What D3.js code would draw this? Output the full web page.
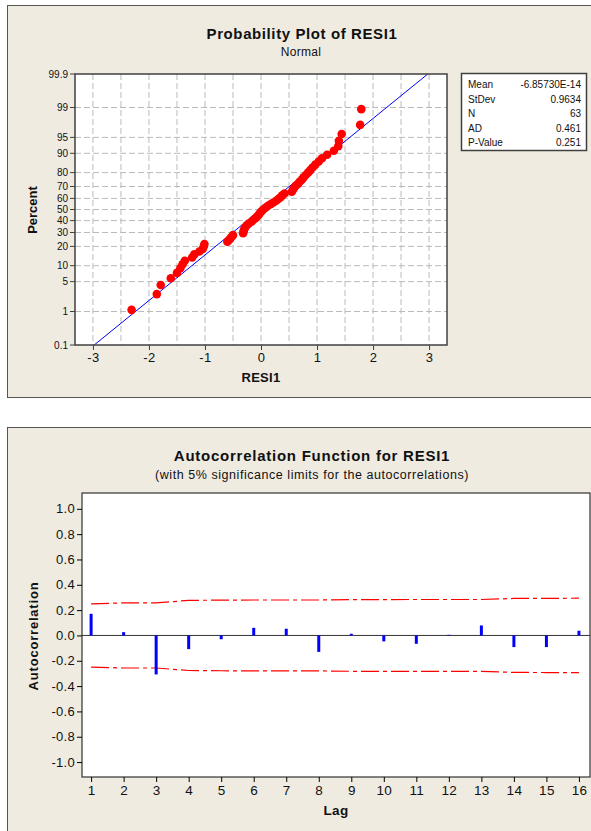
<!DOCTYPE html>
<html>
<head>
<meta charset="utf-8">
<script src="https://cdn.jsdelivr.net/npm/d3@7"></script>
<style>
  body { margin: 0; background: #fff; }
  svg text { font-family: "Liberation Sans", Arial, sans-serif; fill: #111; }
</style>
</head>
<body>
<svg id="canvas" width="591" height="831"></svg>
<script>
// sorted residuals
const resid = [-2.31, -1.86, -1.79, -1.61, -1.50, -1.44, -1.40, -1.36, -1.23, -1.19,
  -1.10, -1.04, -1.02, -1.01, -0.60, -0.56, -0.53, -0.50, -0.32, -0.31,
  -0.30, -0.28, -0.26, -0.22, -0.17, -0.14, -0.10, -0.07, -0.04, -0.02,
  0.01, 0.04, 0.08, 0.12, 0.17, 0.22, 0.27, 0.31, 0.35, 0.38,
  0.42, 0.55, 0.57, 0.59, 0.62, 0.66, 0.69, 0.73, 0.76, 0.80,
  0.84, 0.88, 0.92, 0.97, 1.03, 1.09, 1.18, 1.30, 1.38, 1.39,
  1.44, 1.77, 1.79];
const pctTicks = [0.1, 1, 5, 10, 20, 30, 40, 50, 60, 70, 80, 90, 95, 99, 99.9];
const xTicks = [-3, -2, -1, 0, 1, 2, 3];
const statNames = ["Mean", "StDev", "N", "AD", "P-Value"];
const statValues = ["-6.85730E-14", "0.9634", "63", "0.461", "0.251"];
const fitMean = -6.8573e-14, fitSd = 0.9634;

// autocorrelation
const lags = d3.range(1, 17);
const acf = [0.171, 0.026, -0.308, -0.108, -0.030, 0.060, 0.053, -0.130,
  0.013, -0.047, -0.066, 0.005, 0.079, -0.092, -0.092, 0.037];
const limit = [0.250, 0.257, 0.257, 0.277, 0.279, 0.280, 0.280, 0.280,
  0.283, 0.283, 0.284, 0.284, 0.284, 0.292, 0.293, 0.294];
const acfTicks = [-1.0, -0.8, -0.6, -0.4, -0.2, 0.0, 0.2, 0.4, 0.6, 0.8, 1.0];

// inverse normal cdf (Acklam)
function probit(p) {
  const a = [-39.6968302866538, 220.946098424521, -275.928510446969, 138.357751867269, -30.6647980661472, 2.50662827745924];
  const b = [-54.4760987982241, 161.585836858041, -155.698979859887, 66.8013118877197, -13.2806815528857];
  const c = [-0.00778489400243029, -0.322396458041136, -2.40075827716184, -2.54973253934373, 4.37466414146497, 2.93816398269878];
  const d = [0.00778469570904146, 0.32246712907004, 2.445134137143, 3.75440866190742];
  const pl = 0.02425;
  let q, r;
  if (p < pl) {
    q = Math.sqrt(-2 * Math.log(p));
    return (((((c[0]*q+c[1])*q+c[2])*q+c[3])*q+c[4])*q+c[5]) / ((((d[0]*q+d[1])*q+d[2])*q+d[3])*q+1);
  }
  if (p > 1 - pl) {
    q = Math.sqrt(-2 * Math.log(1 - p));
    return -(((((c[0]*q+c[1])*q+c[2])*q+c[3])*q+c[4])*q+c[5]) / ((((d[0]*q+d[1])*q+d[2])*q+d[3])*q+1);
  }
  q = p - 0.5; r = q * q;
  return (((((a[0]*r+a[1])*r+a[2])*r+a[3])*r+a[4])*r+a[5])*q / (((((b[0]*r+b[1])*r+b[2])*r+b[3])*r+b[4])*r+1);
}

const svg = d3.select("#canvas");
const bg = "#efebe1";

// panels
svg.append("rect").attr("x", 7.5).attr("y", 5.5).attr("width", 600).attr("height", 392)
  .attr("fill", bg).attr("stroke", "#555").attr("stroke-width", 1);
svg.append("rect").attr("x", 7.5).attr("y", 427.5).attr("width", 600).attr("height", 420)
  .attr("fill", bg).attr("stroke", "#555").attr("stroke-width", 1);

// ---------- probability plot ----------
const p1 = {l: 75, r: 447, t: 74, b: 345};
const x1 = d3.scaleLinear().domain([-3.32, 3.32]).range([p1.l, p1.r]);
const zMax = probit(0.999);
const y1 = d3.scaleLinear().domain([-zMax, zMax]).range([p1.b, p1.t]);
const yPct = pc => y1(probit(pc / 100));

const g1 = svg.append("g");
g1.append("rect").attr("x", p1.l).attr("y", p1.t).attr("width", p1.r - p1.l).attr("height", p1.b - p1.t)
  .attr("fill", "#fff");

// grid
g1.selectAll(".vg").data(d3.range(-3, 3.01, 0.5)).enter().append("line")
  .attr("x1", d => x1(d)).attr("x2", d => x1(d)).attr("y1", p1.t).attr("y2", p1.b)
  .attr("stroke", "#bbb").attr("stroke-dasharray", "6,3");
g1.selectAll(".hg").data(pctTicks.slice(1, -1)).enter().append("line")
  .attr("x1", p1.l).attr("x2", p1.r).attr("y1", d => yPct(d)).attr("y2", d => yPct(d))
  .attr("stroke", "#bbb").attr("stroke-dasharray", "6,3");

// fitted line
const fitLine = [0.1, 99.9].map(pc => [fitMean + fitSd * probit(pc / 100), pc]);
g1.append("line")
  .attr("x1", x1(fitLine[0][0])).attr("y1", yPct(fitLine[0][1]))
  .attr("x2", x1(fitLine[1][0])).attr("y2", yPct(fitLine[1][1]))
  .attr("stroke", "#0000ff").attr("stroke-width", 1);

// points at median ranks
const n = resid.length;
g1.selectAll(".pt").data(resid).enter().append("circle")
  .attr("cx", d => x1(d))
  .attr("cy", (d, i) => y1(probit((i + 1 - 0.3) / (n + 0.4))))
  .attr("r", 4.3).attr("fill", "#ff0000");

g1.append("rect").attr("x", p1.l).attr("y", p1.t).attr("width", p1.r - p1.l).attr("height", p1.b - p1.t)
  .attr("fill", "none").attr("stroke", "#404040").attr("stroke-width", 1.5);

// axes
const ax1 = g1.append("g").attr("transform", "translate(0," + p1.b + ")")
  .call(d3.axisBottom(x1).tickValues(xTicks).tickSize(5).tickPadding(3).tickFormat(d => String(d)));
ax1.select(".domain").remove();
ax1.selectAll("line").attr("stroke", "#404040");
ax1.selectAll("text").attr("font-size", 13).attr("letter-spacing", 0.5).attr("fill", "#111");

const yt = g1.selectAll(".yt").data(pctTicks).enter().append("g")
  .attr("transform", d => "translate(" + p1.l + "," + yPct(d) + ")");
yt.append("line").attr("x1", -5).attr("x2", 0).attr("stroke", "#404040");
yt.append("text").attr("x", -7).attr("dy", "0.35em").attr("text-anchor", "end")
  .attr("font-size", 10).text(d => d);

svg.append("text").attr("x", 302).attr("y", 39).attr("text-anchor", "middle")
  .attr("font-size", 15).attr("letter-spacing", 0.6).attr("font-weight", "bold").text("Probability Plot of RESI1");
svg.append("text").attr("x", 301).attr("y", 56).attr("text-anchor", "middle")
  .attr("font-size", 12).attr("letter-spacing", 0.3).text("Normal");
svg.append("text").attr("x", 261).attr("y", 382).attr("text-anchor", "middle")
  .attr("font-size", 13).attr("letter-spacing", 0.3).attr("font-weight", "bold").text("RESI1");
svg.append("text").attr("transform", "translate(37,210) rotate(-90)").attr("text-anchor", "middle")
  .attr("font-size", 13).attr("font-weight", "bold").text("Percent");

// stats box
const box = svg.append("g");
box.append("rect").attr("x", 461.5).attr("y", 73.5).attr("width", 125).attr("height", 77)
  .attr("fill", "#fff").attr("stroke", "#404040").attr("stroke-width", 1.5);
statNames.forEach((s, i) => {
  const yy = 88 + i * 14.5;
  box.append("text").attr("x", 468).attr("y", yy).attr("font-size", 10).text(s);
  box.append("text").attr("x", 581).attr("y", yy).attr("text-anchor", "end")
    .attr("font-size", 10).text(statValues[i]);
});

// ---------- ACF ----------
const p2 = {l: 82, r: 590, t: 493, b: 777};
const x2 = d3.scaleLinear().domain([0.72, 16.34]).range([p2.l, p2.r]);
const y2 = d3.scaleLinear().domain([-1.118, 1.125]).range([p2.b, p2.t]);
const g2 = svg.append("g");
g2.append("rect").attr("x", p2.l).attr("y", p2.t).attr("width", p2.r - p2.l).attr("height", p2.b - p2.t)
  .attr("fill", "#fff");

const lim = d3.line().x((d, i) => x2(lags[i])).y(d => y2(d));
g2.append("path").attr("d", lim(limit)).attr("fill", "none")
  .attr("stroke", "#ff0000").attr("stroke-width", 1.2).attr("stroke-dasharray", "18,4,4,4");
g2.append("path").attr("d", lim(limit.map(v => -v))).attr("fill", "none")
  .attr("stroke", "#ff0000").attr("stroke-width", 1.2).attr("stroke-dasharray", "18,4,4,4");

g2.append("line").attr("x1", p2.l).attr("x2", p2.r).attr("y1", y2(0)).attr("y2", y2(0))
  .attr("stroke", "#333").attr("stroke-width", 1);

g2.selectAll(".bar").data(acf).enter().append("line")
  .attr("x1", (d, i) => x2(lags[i])).attr("x2", (d, i) => x2(lags[i]))
  .attr("y1", y2(0)).attr("y2", d => y2(d))
  .attr("stroke", "#0000ff").attr("stroke-width", 3);

g2.append("rect").attr("x", p2.l).attr("y", p2.t).attr("width", p2.r - p2.l).attr("height", p2.b - p2.t)
  .attr("fill", "none").attr("stroke", "#333").attr("stroke-width", 1.2);

const ax2 = g2.append("g").attr("transform", "translate(0," + p2.b + ")")
  .call(d3.axisBottom(x2).tickValues(lags).tickSize(5).tickPadding(3).tickFormat(d => String(d)));
ax2.select(".domain").remove();
ax2.selectAll("text").attr("font-size", 13.5).attr("letter-spacing", 0.3).attr("fill", "#111");
const ay2 = g2.append("g").attr("transform", "translate(" + p2.l + ",0)")
  .call(d3.axisLeft(y2).tickValues(acfTicks).tickSize(5).tickPadding(2).tickFormat(d => d.toFixed(1)));
ay2.select(".domain").remove();
ay2.selectAll("text").attr("font-size", 13).attr("letter-spacing", 0.3).attr("fill", "#111");

svg.append("text").attr("x", 312).attr("y", 461).attr("text-anchor", "middle")
  .attr("font-size", 15).attr("letter-spacing", 0.75).attr("font-weight", "bold").text("Autocorrelation Function for RESI1");
svg.append("text").attr("x", 312).attr("y", 479).attr("text-anchor", "middle")
  .attr("font-size", 12.5).attr("letter-spacing", 0.55).text("(with 5% significance limits for the autocorrelations)");
svg.append("text").attr("x", 336).attr("y", 815).attr("text-anchor", "middle")
  .attr("font-size", 13.5).attr("letter-spacing", 0.3).attr("font-weight", "bold").text("Lag");
svg.append("text").attr("transform", "translate(38,636) rotate(-90)").attr("text-anchor", "middle")
  .attr("font-size", 13).attr("letter-spacing", 0.8).attr("font-weight", "bold").text("Autocorrelation");
</script>
</body>
</html>
